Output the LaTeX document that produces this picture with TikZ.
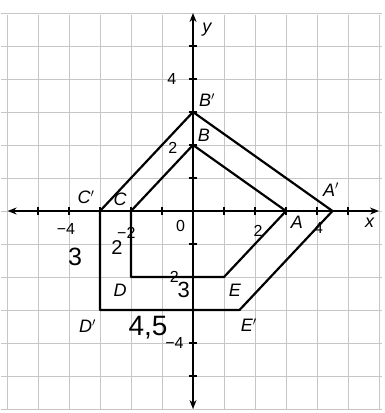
\documentclass[tikz,border=0pt]{standalone}
\usepackage{fontspec}
\setmainfont{Liberation Sans}
\usetikzlibrary{arrows.meta}
\tikzset{
  gridline/.style={gray!45, line width=0.6pt},
  axisline/.style={line width=2pt, {Stealth[length=9pt,width=7pt]}-{Stealth[length=9pt,width=7pt]}},
  shapeline/.style={line width=2.2pt, line join=round},
  ticklbl/.style={font=\fontsize{16}{16}\selectfont, inner sep=0pt},
  vlbl/.style={font=\fontsize{18}{18}\selectfont\itshape, inner sep=0pt},
  hand/.style={font=\fontsize{25}{25}\selectfont, inner sep=0pt},
}
\begin{document}
\begin{tikzpicture}[x=1pt,y=-1pt]
\useasboundingbox (0,0) rectangle (384,413);
\fill[white] (0,0) rectangle (384,413);
\begin{scope}[shift={(193,211)}, x=31pt, y=33pt]
  % grid
  \foreach \k in {-6,...,6} {
    \draw[gridline] (\k,-6) -- (\k,5.95);
    \draw[gridline] (-6.2,\k) -- (6.1,\k);
  }
  % axes
  \coordinate (xl) at (-5.98,0);
  \coordinate (xr) at (6.0,0);
  \coordinate (yt) at (0,6.0);
  \coordinate (yb) at (0,-6.0);
  \draw[axisline] (xl) -- (xr);
  \draw[axisline] (yb) -- (yt);
  \foreach \k in {-5,...,5} {
    \draw[line width=1.6pt] (\k,-0.12) -- (\k,0.12);
    \draw[line width=1.6pt] (-0.14,\k) -- (0.14,\k);
  }
  \node[vlbl] (ylab) at (0.45,5.5) {y};
  \node[vlbl] (xlab) at (5.7,-0.35) {x};
  % tick labels
  \node[ticklbl] (t4y) at (-0.68,4) {4};
  \node[ticklbl] (t2y) at (-0.65,1.9) {2};
  \node[ticklbl] (t0) at (-0.4,-0.45) {0};
  \node[ticklbl] (tm4x) at (-4.1,-0.55) {−4};
  \node[ticklbl] (tm2x) at (-2.15,-0.65) {−2};
  \node[ticklbl] (t2x) at (2.1,-0.6) {2};
  \node[ticklbl] (t4x) at (4.05,-0.5) {4};
  \node[ticklbl] (tm2y) at (-0.75,-2.0) {−2};
  \node[ticklbl] (tm4y) at (-0.6,-4.0) {−4};
  % original pentagon
  \coordinate (A) at (3,0);
  \coordinate (B) at (0,2);
  \coordinate (C) at (-2,0);
  \coordinate (D) at (-2,-2);
  \coordinate (E) at (1,-2);
  \draw[shapeline] (A) -- (B) -- (C) -- (D) -- (E) -- cycle;
  % image pentagon
  \coordinate (A') at (4.5,0);
  \coordinate (B') at (0,3);
  \coordinate (C') at (-3,0);
  \coordinate (D') at (-3,-3);
  \coordinate (E') at (1.5,-3);
  \draw[shapeline] (A') -- (B') -- (C') -- (D') -- (E') -- cycle;
  % vertex labels
  \node[vlbl] (lA) at (3.35,-0.35) {A};
  \node[vlbl] (lB) at (0.35,2.3) {B};
  \node[vlbl] (lC) at (-2.35,0.35) {C};
  \node[vlbl] (lD) at (-2.35,-2.4) {D};
  \node[vlbl] (lE) at (1.35,-2.4) {E};
  \node[vlbl] (lA') at (4.45,0.65) {A$'$};
  \node[vlbl] (lB') at (0.45,3.35) {B$'$};
  \node[vlbl] (lC') at (-3.45,0.42) {C$'$};
  \node[vlbl] (lD') at (-3.4,-3.5) {D$'$};
  \node[vlbl] (lE') at (1.8,-3.45) {E$'$};
  % handwritten notes
  \node[hand] (h3a) at (-3.8,-1.4) {3};
  \node[hand, font=\fontsize{20}{20}\selectfont] (h2) at (-2.45,-1.1) {2};
  \node[hand, font=\fontsize{22}{22}\selectfont] (h3b) at (-0.3,-2.4) {3};
  \node[hand, font=\fontsize{28}{28}\selectfont] (h45) at (-1.45,-3.55) {4,5};
\end{scope}
\end{tikzpicture}
\end{document}
